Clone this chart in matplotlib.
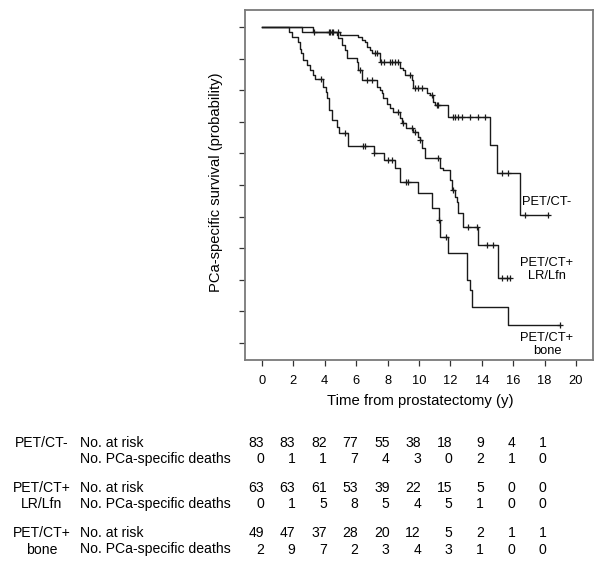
import numpy as np
import matplotlib
matplotlib.use("Agg")
import matplotlib.pyplot as plt

plt.rcParams['font.family'] = ['Liberation Sans', 'DejaVu Sans']

# Kaplan-Meier steps: (time in years, survival after the step)
neg_t = [0, 3.27, 4.97, 6.14, 6.35, 6.56, 6.67, 6.88, 6.99, 7.52, 8.79, 9.0, 9.11, 9.53, 9.64,
         10.49, 10.7, 10.91, 11.02, 11.87, 14.52, 14.99, 16.43]
neg_s = [1.0, 0.985, 0.976, 0.969, 0.959, 0.953, 0.938, 0.927, 0.917, 0.890, 0.869, 0.864, 0.848,
         0.832, 0.806, 0.790, 0.785, 0.764, 0.753, 0.716, 0.627, 0.537, 0.405]
neg_cens = [4.35, 4.5, 4.86, 7.2, 7.3, 7.6, 7.8, 8.15, 8.3, 8.45, 8.65, 9.43, 9.75, 9.96, 10.17,
            10.81, 11.12, 11.23, 12.19, 12.29, 12.5, 12.72, 13.25, 13.78, 14.2, 15.26, 15.69,
            16.75, 18.2]

lr_t = [0, 2.53, 4.77, 4.86, 5.08, 5.29, 5.39, 6.03, 6.14, 6.35, 7.3, 7.52, 7.62, 7.73, 7.94,
        8.15, 8.37, 8.79, 8.9, 9.2, 9.64, 9.96, 10.07, 10.17, 10.38, 11.34, 11.55, 11.97,
        12.08, 12.3, 12.4, 12.5, 12.82, 13.78, 15.05]
lr_s = [1.0, 0.985, 0.975, 0.964, 0.943, 0.927, 0.901, 0.890, 0.864, 0.832, 0.811, 0.800, 0.790,
        0.774, 0.758, 0.743, 0.732, 0.711, 0.697, 0.679, 0.669, 0.653, 0.642, 0.616, 0.584,
        0.553, 0.548, 0.516, 0.484, 0.463, 0.447, 0.410, 0.368, 0.310, 0.205]
lr_cens = [3.3, 4.3, 4.45, 6.24, 6.67, 6.99, 8.68, 9.0, 9.53, 9.75, 10.07, 11.23, 12.19, 13.1,
           13.7, 14.3, 14.74, 15.27, 15.58, 15.8]

bone_t = [0, 1.72, 1.89, 2.31, 2.42, 2.5, 2.6, 2.89, 3.06, 3.23, 3.38, 3.91, 4.08, 4.14, 4.29,
          4.44, 4.76, 4.92, 5.5, 7.13, 7.8, 8.47, 8.79, 9.96, 10.81, 11.3, 11.34, 11.87, 13.08,
          13.25, 13.36, 15.69]
bone_s = [1.0, 0.983, 0.967, 0.953, 0.932, 0.917, 0.896, 0.880, 0.864, 0.848, 0.836, 0.811,
          0.795, 0.774, 0.737, 0.706, 0.685, 0.664, 0.624, 0.600, 0.579, 0.553, 0.510, 0.474,
          0.426, 0.389, 0.336, 0.284, 0.199, 0.168, 0.115, 0.057]
bone_cens = [3.76, 5.28, 6.42, 6.57, 7.15, 8.05, 8.26, 9.2, 9.32, 11.3, 11.7, 19.0]

# number-at-risk table (columns at years 0, 2, ..., 18)
table_years = [0, 2, 4, 6, 8, 10, 12, 14, 16, 18]
table_groups = ['PET/CT-', 'PET/CT+\nLR/Lfn', 'PET/CT+\nbone']
risk_neg = [83, 83, 82, 77, 55, 38, 18, 9, 4, 1]
deaths_neg = [0, 1, 1, 7, 4, 3, 0, 2, 1, 0]
risk_lr = [63, 63, 61, 53, 39, 22, 15, 5, 0, 0]
deaths_lr = [0, 1, 5, 8, 5, 4, 5, 1, 0, 0]
risk_bone = [49, 47, 37, 28, 20, 12, 5, 2, 1, 1]
deaths_bone = [2, 9, 7, 2, 3, 4, 3, 1, 0, 0]

W, H = 603, 565
fig = plt.figure(figsize=(W / 100, H / 100), dpi=100)
ax = fig.add_axes([245 / W, 1 - 360 / H, 348 / W, 350 / H])

line_col = '#1a1a1a'
curves = [(neg_t, neg_s, neg_cens), (lr_t, lr_s, lr_cens), (bone_t, bone_s, bone_cens)]
for t, s, cens in curves:
    t = np.array(t)
    s = np.array(s)
    end = max(cens)
    ax.step(np.append(t, end), np.append(s, s[-1]), where='post', color=line_col, lw=1.0)
    idx = np.searchsorted(t, cens, side='right') - 1
    ax.plot(cens, s[idx], ls='none', marker='+', ms=5, mew=0.9, color=line_col)

fs_in = 9.3
ax.text(18.15, 0.446, 'PET/CT-', ha='center', va='center', fontsize=fs_in)
ax.text(18.15, 0.232, 'PET/CT+\nLR/Lfn', ha='center', va='center', fontsize=fs_in, linespacing=1.1)
ax.text(18.15, -0.006, 'PET/CT+\nbone', ha='center', va='center', fontsize=fs_in, linespacing=1.1)

ax.set_xlim(-1.08, 21.08)
ax.set_ylim(-0.054, 1.054)
ax.set_xticks(np.arange(0, 21, 2))
ax.set_yticks(np.arange(0, 1.01, 0.1))
ax.set_yticklabels([])
ax.tick_params(axis='both', direction='out', length=4, width=0.9, color='#333333',
               labelsize=9.3, pad=6.5)
for sp in ax.spines.values():
    sp.set_color('#7a7a7a')
    sp.set_linewidth(1.3)

fig.text(420 / W, 1 - 405 / H, 'Time from prostatectomy (y)', ha='center', va='baseline', fontsize=10.7)
fig.text(216 / W, 1 - 182 / H, 'PCa-specific survival (probability)', ha='center', va='center',
         rotation=90, fontsize=10.6)

# risk table below the plot, numbers right-aligned just past each year tick
fs_tab = 10.1
rows = [risk_neg, deaths_neg, risk_lr, deaths_lr, risk_bone, deaths_bone]
row_base = [447, 463.3, 492, 508.3, 537, 553.5]
row_names = ['No. at risk', 'No. PCa-specific deaths'] * 3
for r, (vals, name) in enumerate(zip(rows, row_names)):
    yb = 1 - row_base[r] / H
    fig.text(80.5 / W, yb, name, ha='left', va='baseline', fontsize=fs_tab)
    for yr, v in zip(table_years, vals):
        xd = ax.transData.transform((yr, 0))[0] + 2
        fig.text(xd / (W), yb, str(v), ha='right', va='baseline', fontsize=fs_tab)
for g, label in enumerate(table_groups):
    for k, part in enumerate(label.split('\n')):
        fig.text(41.5 / W, 1 - row_base[2 * g + k] / H, part, ha='center', va='baseline', fontsize=fs_tab)

fig.savefig('out.png', dpi=100)
